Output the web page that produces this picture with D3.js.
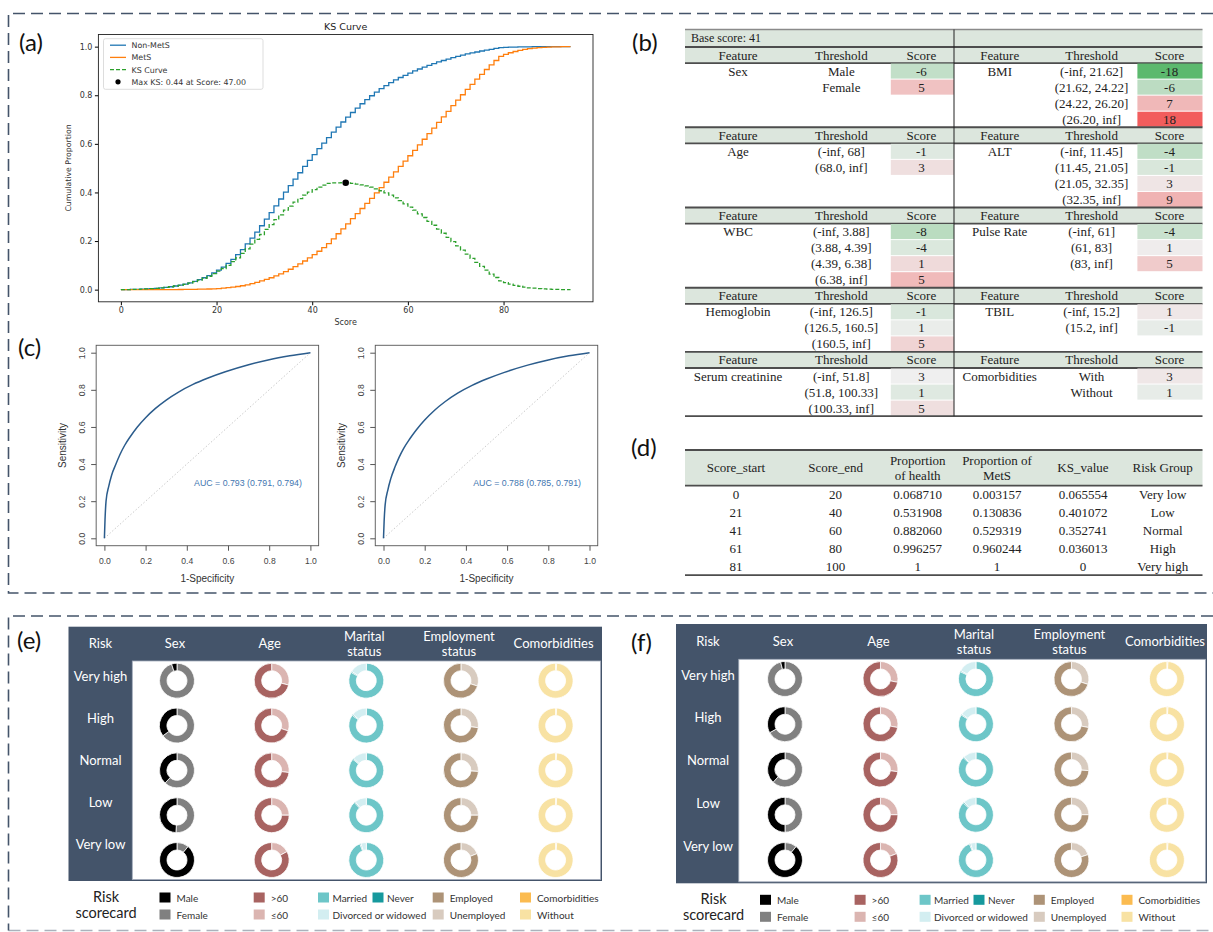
<!DOCTYPE html>
<html>
<head>
<meta charset="utf-8">
<script src="https://cdn.jsdelivr.net/npm/d3@7"></script>
<style>
  body { margin: 0; background: #fff; }
  svg { display: block; }
</style>
</head>
<body>
<div id="wrapper"></div>
<script>
/* ---------- data: (a) KS curve, cumulative proportions per score 0..94 ---------- */
const nonMetS = [0,0,0,0.001,0.001,0.002,0.003,0.004,0.005,0.007,
  0.009,0.012,0.015,0.019,0.023,0.028,0.034,0.041,0.049,0.058,
  0.069,0.080,0.093,0.108,0.125,0.144,0.165,0.188,0.212,0.237,
  0.263,0.290,0.317,0.345,0.373,0.401,0.428,0.455,0.481,0.507,
  0.532,0.556,0.580,0.603,0.626,0.648,0.669,0.690,0.710,0.729,
  0.747,0.765,0.782,0.798,0.813,0.827,0.840,0.852,0.863,0.873,
  0.882,0.891,0.900,0.908,0.916,0.923,0.930,0.937,0.943,0.949,
  0.955,0.960,0.965,0.970,0.974,0.978,0.982,0.986,0.989,0.993,
  0.996,0.997,0.998,0.998,0.999,0.999,0.999,1,1,1,
  1,1,1,1,1];
const metS = [0,0,0,0,0,0,0,0,0,0,
  0.0003,0.0004,0.0005,0.0007,0.0009,0.0012,0.0015,0.0019,0.0023,0.0027,
  0.0032,0.004,0.006,0.008,0.010,0.013,0.016,0.020,0.025,0.030,
  0.036,0.042,0.049,0.057,0.065,0.074,0.084,0.095,0.106,0.118,
  0.131,0.144,0.158,0.173,0.189,0.209,0.230,0.250,0.271,0.292,
  0.313,0.334,0.355,0.376,0.398,0.420,0.442,0.463,0.485,0.507,
  0.529,0.551,0.573,0.596,0.619,0.642,0.665,0.688,0.711,0.734,
  0.757,0.780,0.802,0.824,0.845,0.866,0.886,0.906,0.925,0.943,
  0.960,0.968,0.975,0.980,0.985,0.989,0.992,0.994,0.996,0.997,
  0.998,0.999,0.999,1,1];
const ksCurve = [0,0,0,0.001,0.001,0.002,0.003,0.004,0.005,0.007,
  0.009,0.012,0.015,0.018,0.022,0.027,0.033,0.039,0.047,0.055,
  0.066,0.076,0.087,0.100,0.115,0.131,0.149,0.168,0.187,0.207,
  0.227,0.248,0.268,0.288,0.308,0.327,0.344,0.360,0.375,0.389,
  0.401,0.412,0.422,0.430,0.437,0.439,0.439,0.440,0.439,0.437,
  0.434,0.431,0.427,0.422,0.415,0.407,0.398,0.389,0.378,0.366,
  0.353,0.340,0.327,0.312,0.297,0.281,0.265,0.249,0.232,0.215,
  0.198,0.180,0.163,0.146,0.129,0.112,0.096,0.080,0.064,0.050,
  0.036,0.029,0.023,0.018,0.014,0.010,0.007,0.006,0.004,0.003,
  0.002,0.001,0.001,0,0];
const maxKsScore = 47;
const maxKsValue = 0.44;
const ksXTicks = [0, 20, 40, 60, 80];
const ksYTicks = [0, 0.2, 0.4, 0.6, 0.8, 1.0];
const ksLegend = ["Non-MetS", "MetS", "KS Curve", "Max KS: 0.44 at Score: 47.00"];

/* ---------- (c) ROC curves ---------- */
const rocFpr = [0,0.003,0.008,0.021,0.035,0.056,0.075,0.098,0.127,0.16,0.2,0.248,0.3,0.36,0.43,0.5,0.587,0.7,0.8,0.9,1];
const rocTprTrain = [0,0.10,0.20,0.28,0.34,0.40,0.45,0.50,0.55,0.60,0.65,0.70,0.745,0.788,0.829,0.862,0.897,0.935,0.962,0.983,1];
const rocTprTest = [0,0.09,0.18,0.26,0.32,0.385,0.435,0.485,0.535,0.585,0.637,0.69,0.737,0.782,0.824,0.858,0.894,0.933,0.961,0.983,1];
const aucLabels = ["AUC = 0.793 (0.791, 0.794)", "AUC = 0.788 (0.785, 0.791)"];
const rocTicks = [0, 0.2, 0.4, 0.6, 0.8, 1.0];

/* ---------- (b) scorecard ---------- */
const baseScore = 41;
const scorecardFeatures = ["Sex","BMI","Age","ALT","WBC","Pulse Rate","Hemoglobin","TBIL","Serum creatinine","Comorbidities"];
const scorecardThresholds = [
  ["Male","Female"],
  ["(-inf, 21.62]","(21.62, 24.22]","(24.22, 26.20]","(26.20, inf]"],
  ["(-inf, 68]","(68.0, inf]"],
  ["(-inf, 11.45]","(11.45, 21.05]","(21.05, 32.35]","(32.35, inf]"],
  ["(-inf, 3.88]","(3.88, 4.39]","(4.39, 6.38]","(6.38, inf]"],
  ["(-inf, 61]","(61, 83]","(83, inf]"],
  ["(-inf, 126.5]","(126.5, 160.5]","(160.5, inf]"],
  ["(-inf, 15.2]","(15.2, inf]"],
  ["(-inf, 51.8]","(51.8, 100.33]","(100.33, inf]"],
  ["With","Without"]
];
const scorecardScores = [[-6,5],[-18,-6,7,18],[-1,3],[-4,-1,3,9],[-8,-4,1,5],[-4,1,5],[-1,1,5],[1,-1],[3,1,5],[3,1]];

/* ---------- (d) risk groups ---------- */
const riskHeaders = [["Score_start"],["Score_end"],["Proportion","of health"],["Proportion of","MetS"],["KS_value"],["Risk Group"]];
const scoreStart = [0, 21, 41, 61, 81];
const scoreEnd = [20, 40, 60, 80, 100];
const propHealth = [0.068710, 0.531908, 0.882060, 0.996257, 1];
const propMetS = [0.003157, 0.130836, 0.529319, 0.960244, 1];
const ksBand = [0.065554, 0.401072, 0.352741, 0.036013, 0];
const riskGroupNames = ["Very low","Low","Normal","High","Very high"];

/* ---------- (e)/(f) donut grids, slice order clockwise from 12 o'clock ---------- */
const riskRows = ["Very high","High","Normal","Low","Very low"];
const donutColumns = ["Sex","Age","Marital status","Employment status","Comorbidities"];
const sexKeys = ["Female","Male"];
const ageKeys = ["≤60",">60"];
const maritalKeys = ["Married","Never","Divorced or widowed"];
const employKeys = ["Unemployed","Employed"];
const comorbKeys = ["Comorbidities","Without"];

const sexE = [[95,5],[65,35],[62,38],[51,49],[11,89]];
const ageE = [[29,71],[30,70],[27,73],[25,75],[17,83]];
const maritalE = [[83,1,16],[85,1,14],[86,1,13],[88,1,11],[94,1,5]];
const employE = [[30,70],[27,73],[26,74],[25,75],[19,81]];
const comorbE = [[1,99],[1,99],[1,99],[1,99],[1,99]];

const sexF = [[96,4],[67,33],[62,38],[50,50],[11,89]];
const ageF = [[28,72],[28,72],[27,73],[25,75],[19,81]];
const maritalF = [[82,1,17],[84,1,15],[87,1,12],[87,1,12],[94,1,5]];
const employF = [[30,70],[28,72],[26,74],[25,75],[20,80]];
const comorbF = [[1,99],[1,99],[1,99],[1,99],[1,99]];

/* ---------- colours ---------- */
const navy = "#44546a";
const donutColors = {
  "Female": "#808080", "Male": "#000000",
  "≤60": "#dbb5b1", ">60": "#a86361",
  "Married": "#6dc6c8", "Never": "#16999d", "Divorced or widowed": "#d3eef1",
  "Unemployed": "#d8cbbf", "Employed": "#ad9377",
  "Comorbidities": "#fbbb50", "Without": "#f8e2a3"
};

/* ---------- canvas ---------- */
const width = 1213, height = 932;
const svg = d3.select("#wrapper").append("svg")
  .attr("width", width)
  .attr("height", height);
svg.append("rect").attr("width", width).attr("height", height).attr("fill", "#fff");

// dashed panel borders
const dashG = svg.append("g")
  .attr("fill", "none")
  .attr("stroke", navy)
  .attr("stroke-width", 1.6)
  .attr("stroke-dasharray", "12,6");
dashG.append("path").attr("d", "M1213,13.5H8.5V593H1213");
dashG.append("path").attr("d", "M1213,616H8.5V930.5");
dashG.append("path").attr("d", "M8.5,930.5H1213").attr("stroke-opacity", 0.45);

// panel letters
const letters = [["(a)",19,50.5],["(b)",632,50.5],["(c)",18,355.5],["(d)",631,455.5],["(e)",17,648.5],["(f)",631,650.5]];
svg.append("g").selectAll("text").data(letters).join("text")
  .attr("x", d => d[1]).attr("y", d => d[2])
  .attr("font-family", "Lato, 'Open Sans', sans-serif")
  .attr("font-size", 24)
  .attr("fill", "#111")
  .text(d => d[0]);

/* ===================== (a) KS curve ===================== */
const ksG = svg.append("g").attr("font-family", "'DejaVu Sans', sans-serif");
const ksX = d3.scaleLinear().domain([-4.7, 98.7]).range([98.4, 593]);
const ksY = d3.scaleLinear().domain([-0.05, 1.05]).range([301.8, 34.5]);

const stepLine = d3.line()
  .x((d, i) => ksX(i))
  .y(d => ksY(d))
  .curve(d3.curveStepBefore);

ksG.append("path").attr("d", stepLine(nonMetS))
  .attr("fill", "none").attr("stroke", "#1f77b4").attr("stroke-width", 1.3);
ksG.append("path").attr("d", stepLine(metS))
  .attr("fill", "none").attr("stroke", "#ff7f0e").attr("stroke-width", 1.3);
ksG.append("path").attr("d", stepLine(ksCurve))
  .attr("fill", "none").attr("stroke", "#2ca02c").attr("stroke-width", 1.3)
  .attr("stroke-dasharray", "4,2");
ksG.append("circle")
  .attr("cx", ksX(maxKsScore)).attr("cy", ksY(maxKsValue)).attr("r", 3.3)
  .attr("fill", "#000");

ksG.append("g")
  .attr("transform", `translate(0,${ksY.range()[0]})`)
  .call(d3.axisBottom(ksX).tickValues(ksXTicks).tickSize(3.5).tickPadding(2.5))
  .call(g => g.select(".domain").remove())
  .attr("font-family", "'DejaVu Sans', sans-serif")
  .attr("font-size", 8)
  .call(g => g.selectAll("text").attr("fill", "#333"));
ksG.append("g")
  .attr("transform", `translate(${ksX.range()[0]},0)`)
  .call(d3.axisLeft(ksY).tickValues(ksYTicks).tickFormat(d3.format(".1f")).tickSize(3.5).tickPadding(2.5))
  .call(g => g.select(".domain").remove())
  .attr("font-family", "'DejaVu Sans', sans-serif")
  .attr("font-size", 8)
  .call(g => g.selectAll("text").attr("fill", "#333"));

ksG.append("rect")
  .attr("x", ksX.range()[0]).attr("y", ksY.range()[1])
  .attr("width", ksX.range()[1] - ksX.range()[0])
  .attr("height", ksY.range()[0] - ksY.range()[1])
  .attr("fill", "none").attr("stroke", "#222").attr("stroke-width", 0.9);

ksG.append("text").attr("x", 345.7).attr("y", 29.5).attr("text-anchor", "middle")
  .attr("font-size", 9.5).attr("fill", "#222").text("KS Curve");
ksG.append("text").attr("x", 345.7).attr("y", 325).attr("text-anchor", "middle")
  .attr("font-size", 8).attr("fill", "#333").text("Score");
ksG.append("text").attr("transform", "translate(71,168) rotate(-90)").attr("text-anchor", "middle")
  .attr("font-size", 7.8).attr("fill", "#333").text("Cumulative Proportion");

// legend
const lg = ksG.append("g");
lg.append("rect").attr("x", 103.5).attr("y", 38.7).attr("width", 159.5).attr("height", 50.6)
  .attr("rx", 2).attr("fill", "#fff").attr("fill-opacity", 0.85)
  .attr("stroke", "#d4d4d4").attr("stroke-width", 0.8);
const legendStyles = [
  {color: "#1f77b4", dash: null},
  {color: "#ff7f0e", dash: null},
  {color: "#2ca02c", dash: "4,2"},
  {color: "#000", dot: true}
];
ksLegend.forEach((label, i) => {
  const y = 45.2 + i * 12.2;
  const st = legendStyles[i];
  if (st.dot) {
    lg.append("circle").attr("cx", 118).attr("cy", y).attr("r", 2.6).attr("fill", "#000");
  } else {
    lg.append("line").attr("x1", 110).attr("x2", 126).attr("y1", y).attr("y2", y)
      .attr("stroke", st.color).attr("stroke-width", 1.3)
      .attr("stroke-dasharray", st.dash);
  }
  lg.append("text").attr("x", 131.5).attr("y", y + 3)
    .attr("font-size", 7.9).attr("fill", "#333").text(label);
});

/* ===================== (c) ROC curves ===================== */
function drawRoc(x0, tpr, auc) {
  const g = svg.append("g").attr("font-family", "'Liberation Sans', Arial, sans-serif");
  const x = d3.scaleLinear().domain([0, 1]).range([x0, x0 + 206]);
  const y = d3.scaleLinear().domain([0, 1]).range([538.3, 352.7]);
  const left = x(-0.04), right = x(1.04), top = y(1.04), bottom = y(-0.04);

  g.append("line")
    .attr("x1", x(0)).attr("y1", y(0)).attr("x2", x(1)).attr("y2", y(1))
    .attr("stroke", "#c4c4c4").attr("stroke-width", 0.9).attr("stroke-dasharray", "1.5,2");

  const rocLine = d3.line()
    .x((d, i) => x(rocFpr[i]))
    .y(d => y(d))
    .curve(d3.curveMonotoneX);
  g.append("path").attr("d", rocLine(tpr))
    .attr("fill", "none").attr("stroke", "#2b5c8c").attr("stroke-width", 1.5);

  g.append("rect").attr("x", left).attr("y", top)
    .attr("width", right - left).attr("height", bottom - top)
    .attr("fill", "none").attr("stroke", "#555").attr("stroke-width", 0.9);

  g.append("g").attr("transform", `translate(0,${bottom})`)
    .call(d3.axisBottom(x).tickValues(rocTicks).tickFormat(d3.format(".1f")).tickSize(5).tickPadding(7))
    .call(s => s.select(".domain").remove())
    .attr("font-family", "'Liberation Sans', Arial, sans-serif")
    .attr("font-size", 8.6)
    .call(s => s.selectAll("line").attr("stroke", "#555"))
    .call(s => s.selectAll("text").attr("fill", "#444"));

  g.append("g").attr("transform", `translate(${left},0)`)
    .call(d3.axisLeft(y).tickValues(rocTicks).tickFormat(d3.format(".1f")).tickSize(5))
    .call(s => s.select(".domain").remove())
    .attr("font-family", "'Liberation Sans', Arial, sans-serif")
    .attr("font-size", 8.6)
    .call(s => s.selectAll("line").attr("stroke", "#555"))
    .call(s => s.selectAll("text")
      .attr("fill", "#444")
      .attr("transform", "rotate(-90)")
      .attr("x", 0).attr("y", -11).attr("dy", 0)
      .attr("text-anchor", "middle"));

  g.append("text").attr("x", (x(0) + x(1)) / 2).attr("y", 582)
    .attr("text-anchor", "middle").attr("font-size", 10).attr("fill", "#333")
    .text("1-Specificity");
  g.append("text").attr("transform", `translate(${left - 30},${(top + bottom) / 2}) rotate(-90)`)
    .attr("text-anchor", "middle").attr("font-size", 10).attr("fill", "#333")
    .text("Sensitivity");
  g.append("text").attr("x", x(0.697)).attr("y", y(0.3) + 3)
    .attr("text-anchor", "middle").attr("font-size", 8.8).attr("fill", "#3f76b0")
    .text(auc);
}
drawRoc(104.4, rocTprTrain, aucLabels[0]);
drawRoc(383.5, rocTprTest, aucLabels[1]);

/* ===================== (b) scorecard table ===================== */
const tb = {left: 685, mid: 954, right: 1202.5, top: 29.5, baseH: 17.5, rowH: 16.05};
const halves = [
  {feature: 738, threshold: 841.3, score: 921.4, cellX: 890.8, cellR: 954},
  {feature: 999.7, threshold: 1091.6, score: 1169.5, cellX: 1137.4, cellR: 1202.5}
];
const headerFill = "#dce6dd";
const ruleColor = "#4d4d4d";
const scoreColor = d3.scaleLinear().domain([-18, 0, 18])
  .range(["#5cb96e", "#efefef", "#f25b5b"]).clamp(true);

const bG = svg.append("g")
  .attr("font-family", "'Liberation Serif', 'Times New Roman', serif")
  .attr("font-size", 13)
  .attr("fill", "#222");

bG.append("rect").attr("x", tb.left).attr("y", tb.top)
  .attr("width", tb.right - tb.left).attr("height", tb.baseH).attr("fill", headerFill);
bG.append("line").attr("x1", tb.left).attr("x2", tb.right).attr("y1", tb.top).attr("y2", tb.top)
  .attr("stroke", "#8a8a8a").attr("stroke-width", 1.5);
bG.append("text").attr("x", 691).attr("y", tb.top + 12.8).attr("font-size", 12)
  .text("Base score: " + baseScore);

let secTop = tb.top + tb.baseH;
for (let s = 0; s < scorecardFeatures.length / 2; s++) {
  const pair = [2 * s, 2 * s + 1];
  const nRows = d3.max(pair, k => scorecardThresholds[k].length);
  bG.append("rect").attr("x", tb.left).attr("y", secTop)
    .attr("width", tb.right - tb.left).attr("height", tb.rowH).attr("fill", headerFill);
  [secTop, secTop + tb.rowH].forEach(yy => {
    bG.append("line").attr("x1", tb.left).attr("x2", tb.right).attr("y1", yy).attr("y2", yy)
      .attr("stroke", ruleColor).attr("stroke-width", 1.8);
  });
  pair.forEach((k, h) => {
    const col = halves[h];
    const hy = secTop + tb.rowH / 2 + 4.5;
    bG.append("text").attr("x", col.feature).attr("y", hy).attr("text-anchor", "middle").text("Feature");
    bG.append("text").attr("x", col.threshold).attr("y", hy).attr("text-anchor", "middle").text("Threshold");
    bG.append("text").attr("x", col.score).attr("y", hy).attr("text-anchor", "middle").text("Score");
    const scores = scorecardScores[k];
    const centre = d3.mean(scores);
    scorecardThresholds[k].forEach((t, r) => {
      const ry = secTop + tb.rowH * (r + 1);
      bG.append("rect").attr("x", col.cellX).attr("y", ry + 0.5)
        .attr("width", col.cellR - col.cellX).attr("height", tb.rowH - 1)
        .attr("fill", scoreColor(scores[r] - centre));
      if (r === 0) {
        bG.append("text").attr("x", col.feature).attr("y", ry + tb.rowH / 2 + 4.5)
          .attr("text-anchor", "middle").text(scorecardFeatures[k]);
      }
      bG.append("text").attr("x", col.threshold).attr("y", ry + tb.rowH / 2 + 4.5)
        .attr("text-anchor", "middle").text(t);
      bG.append("text").attr("x", col.score).attr("y", ry + tb.rowH / 2 + 4.5)
        .attr("text-anchor", "middle").text(scores[r]);
    });
  });
  secTop += tb.rowH * (nRows + 1);
}
bG.append("line").attr("x1", tb.left).attr("x2", tb.right).attr("y1", secTop).attr("y2", secTop)
  .attr("stroke", ruleColor).attr("stroke-width", 1.8);
bG.append("line").attr("x1", tb.mid).attr("x2", tb.mid).attr("y1", tb.top).attr("y2", secTop)
  .attr("stroke", "#222").attr("stroke-width", 1);

/* ===================== (d) risk group table ===================== */
const dt = {left: 685, right: 1202.5, top: 450, headH: 35.7, rowH: 17.9};
const dCols = [736, 835.6, 917.7, 997, 1083, 1162.7];
const fmt6 = v => Number.isInteger(v) ? String(v) : v.toFixed(6);
const dRows = scoreStart.map((d, i) => [
  String(scoreStart[i]), String(scoreEnd[i]), fmt6(propHealth[i]),
  fmt6(propMetS[i]), fmt6(ksBand[i]), riskGroupNames[i]
]);
const dG = svg.append("g")
  .attr("font-family", "'Liberation Serif', 'Times New Roman', serif")
  .attr("font-size", 13)
  .attr("fill", "#222");
dG.append("rect").attr("x", dt.left).attr("y", dt.top)
  .attr("width", dt.right - dt.left).attr("height", dt.headH).attr("fill", headerFill);
const dBottom = dt.top + dt.headH + dt.rowH * dRows.length;
[dt.top, dt.top + dt.headH, dBottom].forEach(yy => {
  dG.append("line").attr("x1", dt.left).attr("x2", dt.right).attr("y1", yy).attr("y2", yy)
    .attr("stroke", ruleColor).attr("stroke-width", 1.8);
});
riskHeaders.forEach((lines, c) => {
  const cy = dt.top + dt.headH / 2;
  lines.forEach((ln, j) => {
    const yy = lines.length === 1 ? cy + 4.5 : cy - 7.5 + j * 15 + 4.5;
    dG.append("text").attr("x", dCols[c]).attr("y", yy).attr("text-anchor", "middle").text(ln);
  });
});
dRows.forEach((row, r) => {
  row.forEach((cell, c) => {
    dG.append("text").attr("x", dCols[c])
      .attr("y", dt.top + dt.headH + dt.rowH * (r + 0.5) + 4.5)
      .attr("text-anchor", "middle").text(cell);
  });
});

/* ===================== (e)/(f) donut grids ===================== */
const legendItems = [
  {label: "Male", slot: 0, row: 0}, {label: "Female", slot: 0, row: 1},
  {label: ">60", slot: 1, row: 0}, {label: "≤60", slot: 1, row: 1},
  {label: "Married", slot: 2, row: 0}, {label: "Never", slot: 3, row: 0},
  {label: "Divorced or widowed", slot: 2, row: 1},
  {label: "Employed", slot: 4, row: 0}, {label: "Unemployed", slot: 4, row: 1},
  {label: "Comorbidities", slot: 5, row: 0}, {label: "Without", slot: 5, row: 1}
];
const columnKeys = [sexKeys, ageKeys, maritalKeys, employKeys, comorbKeys];

function drawRiskPanel(p) {
  const g = svg.append("g")
    .attr("transform", `translate(${p.x},${p.y})`)
    .attr("font-family", "Lato, 'Open Sans', sans-serif");
  g.append("rect").attr("width", p.w).attr("height", p.h).attr("fill", navy);
  g.append("rect").attr("x", p.leftW).attr("y", p.headerH)
    .attr("width", p.w - p.leftW - 1.5).attr("height", p.h - p.headerH - 1.5)
    .attr("fill", "#fff").attr("stroke", "#a3acbb").attr("stroke-width", 0.8);

  const colX = d3.scalePoint().domain(donutColumns).range(p.cols);
  const rowY = d3.scalePoint().domain(riskRows).range(p.rows);
  const labelY = d3.scalePoint().domain(riskRows).range(p.labelRows);

  // header
  g.append("text").attr("x", 32).attr("y", p.headerH / 2 - 0.5)
    .attr("dominant-baseline", "central").attr("text-anchor", "middle")
    .attr("font-size", 13).attr("fill", "#fff").text("Risk");
  donutColumns.forEach(c => {
    const words = c.split(" ");
    words.forEach((wd, j) => {
      const yy = words.length === 1 ? p.headerH / 2 - 1 : p.headerH / 2 - 8 + j * 15.5;
      g.append("text").attr("x", colX(c) - 2).attr("y", yy)
        .attr("dominant-baseline", "central").attr("text-anchor", "middle")
        .attr("font-size", 13).attr("fill", "#fff").text(wd);
    });
  });
  riskRows.forEach(r => {
    g.append("text").attr("x", 32).attr("y", labelY(r))
      .attr("dominant-baseline", "central").attr("text-anchor", "middle")
      .attr("font-size", 13).attr("fill", "#fff").text(r);
  });

  // donuts
  const pie = d3.pie().sort(null).value(d => d.v);
  const arc = d3.arc().innerRadius(10).outerRadius(17.5);
  p.data.forEach((colData, ci) => {
    const keys = columnKeys[ci];
    colData.forEach((vals, ri) => {
      const slices = pie(vals.map((v, k) => ({k: keys[k], v: v})));
      g.append("g")
        .attr("transform", `translate(${colX(donutColumns[ci])},${rowY(riskRows[ri])})`)
        .selectAll("path").data(slices).join("path")
        .attr("d", arc)
        .attr("fill", d => donutColors[d.data.k])
        .attr("stroke", "#fff").attr("stroke-width", 0.8);
    });
  });

  // legend
  const lgd = g.append("g").attr("transform", `translate(0,${p.h})`);
  lgd.append("text").attr("x", 37.5).attr("y", 15).attr("text-anchor", "middle")
    .attr("dominant-baseline", "central").attr("font-size", 14.5).attr("fill", "#222").text("Risk");
  lgd.append("text").attr("x", 37.5).attr("y", 31.5).attr("text-anchor", "middle")
    .attr("dominant-baseline", "central").attr("font-size", 14.5).attr("fill", "#222").text("scorecard");
  legendItems.forEach(it => {
    const sx = p.legendX[it.slot];
    const sy = it.row === 0 ? 11.5 : 28.5;
    lgd.append("rect").attr("x", sx).attr("y", sy).attr("width", 11).attr("height", 10)
      .attr("fill", donutColors[it.label]);
    lgd.append("text").attr("x", sx + (it.slot === 2 || it.slot === 3 ? 14.5 : 17)).attr("y", sy + 5.5)
      .attr("dominant-baseline", "central").attr("font-size", 10).attr("fill", "#333").text(it.label);
  });
}

drawRiskPanel({
  x: 68.5, y: 626.7, w: 533.5, h: 254.3, leftW: 63.8, headerH: 34.3,
  cols: [108.5, 487.1], rows: [54, 233.3], labelRows: [49.3, 217.6],
  legendX: [91, 185.2, 249.5, 304, 364.2, 451.5],
  data: [sexE, ageE, maritalE, employE, comorbE]
});
drawRiskPanel({
  x: 676, y: 624, w: 531, h: 259.3, leftW: 62.8, headerH: 35.3,
  cols: [109, 490.9], rows: [55, 236], labelRows: [50.7, 221.7],
  legendX: [84, 178.6, 243.6, 297.5, 357.8, 445.5],
  data: [sexF, ageF, maritalF, employF, comorbF]
});
</script>
</body>
</html>
